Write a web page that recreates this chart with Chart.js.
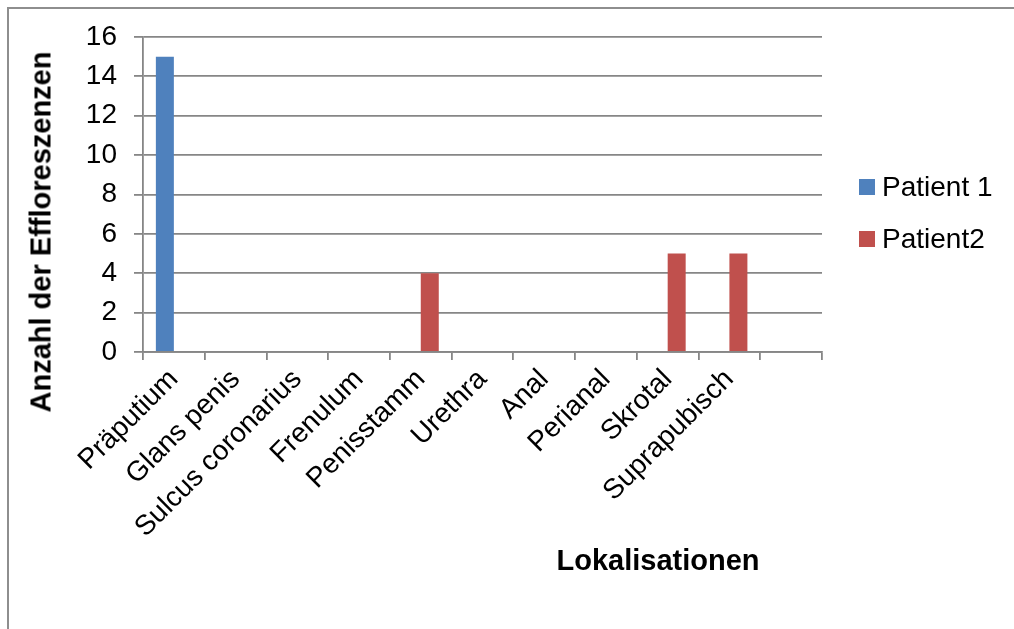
<!DOCTYPE html>
<html lang="de">
<head>
<meta charset="utf-8">
<title>Effloreszenzen nach Lokalisation</title>
<script src="https://cdn.jsdelivr.net/npm/chart.js@4.4.1/dist/chart.umd.min.js"></script>
<style>
  html, body {
    margin: 0;
    padding: 0;
    background: #fff;
    overflow: hidden;
  }
  #wrap {
    position: relative;
    width: 1014px;
    height: 629px;
    overflow: hidden;
    font-family: "Liberation Sans", Arial, sans-serif;
    color: #000;
  }
  #frame {
    position: absolute;
    left: 7px;
    top: 7px;
    width: 1100px;
    height: 700px;
    border-left: 2px solid #8e8e8e;
    border-top: 2px solid #8e8e8e;
  }
  #chart {
    position: absolute;
    left: 0;
    top: 0;
  }
  .axis-title {
    position: absolute;
    font-weight: bold;
    font-size: 29px;
    white-space: nowrap;
    line-height: 1;
  }
  #y-title {
    left: 41px;
    top: 232px;
    transform: translate(-50%, -50%) rotate(-90deg);
  }
  #x-title {
    left: 658px;
    top: 560px;
    transform: translate(-50%, -50%);
  }
  #legend {
    position: absolute;
    left: 859px;
    top: 172px;
    font-size: 28px;
  }
  .legend-item {
    display: flex;
    align-items: center;
    height: 30px;
    margin-bottom: 22px;
  }
  .legend-box {
    width: 16px;
    height: 16px;
    margin-right: 7px;
  }
</style>
</head>
<body>
<div id="wrap">
  <div id="frame"></div>
  <canvas id="chart" width="1014" height="629"></canvas>
  <div class="axis-title" id="y-title">Anzahl der Effloreszenzen</div>
  <div class="axis-title" id="x-title">Lokalisationen</div>
  <div id="legend"></div>
</div>
<script>
// Lokalisationen (letzte Kategorie ist leer)
const categories = [
  "Präputium", "Glans penis", "Sulcus coronarius", "Frenulum", "Penisstamm",
  "Urethra", "Anal", "Perianal", "Skrotal", "Suprapubisch", ""
];
const patient1 = [15, 0, 0, 0, 0, 0, 0, 0, 0, 0, null];
const patient2 = [0, 0, 0, 0, 4, 0, 0, 0, 5, 5, null];
const seriesNames = ["Patient 1", "Patient2"];
const seriesColors = ["#4f81bd", "#c0504d"];

const yMin = 0;
const yMax = 16;
const yStep = 2;

const gridColor = "#868686";
const fontFamily = "'Liberation Sans', Arial, sans-serif";

const chart = new Chart(document.getElementById("chart"), {
  type: "bar",
  data: {
    labels: categories,
    datasets: [
      {
        label: seriesNames[0],
        data: patient1,
        backgroundColor: seriesColors[0],
        categoryPercentage: 0.583,
        barPercentage: 1.0,
      },
      {
        label: seriesNames[1],
        data: patient2,
        backgroundColor: seriesColors[1],
        categoryPercentage: 0.583,
        barPercentage: 1.0,
      },
    ],
  },
  options: {
    responsive: false,
    animation: false,
    devicePixelRatio: 1,
    layout: {
      padding: { left: 0, top: 37, right: 192, bottom: 0 },
    },
    plugins: {
      legend: { display: false },
      tooltip: { enabled: false },
    },
    scales: {
      x: {
        grid: {
          offset: true,
          drawOnChartArea: false,
          drawTicks: true,
          tickLength: 8,
          color: gridColor,
          lineWidth: 1.8,
        },
        border: { color: gridColor, width: 1.8 },
        ticks: {
          autoSkip: false,
          minRotation: 45,
          maxRotation: 45,
          padding: 3,
          color: "#000",
          font: { family: fontFamily, size: 28 },
        },
        afterFit: (scale) => {
          scale.height = 629 - 352;
        },
      },
      y: {
        min: yMin,
        max: yMax,
        grid: {
          color: gridColor,
          lineWidth: 1.8,
          tickLength: 9,
        },
        border: { color: gridColor, width: 1.8 },
        ticks: {
          stepSize: yStep,
          padding: 17,
          color: "#000",
          font: { family: fontFamily, size: 28 },
        },
        afterFit: (scale) => {
          scale.width = 143;
        },
      },
    },
  },
});

// Legende aus den Datensätzen aufbauen
const legendEl = document.getElementById("legend");
chart.data.datasets.forEach((ds) => {
  const item = document.createElement("div");
  item.className = "legend-item";
  item.innerHTML = `<div class="legend-box" style="background:${ds.backgroundColor}"></div><span>${ds.label}</span>`;
  legendEl.appendChild(item);
});
</script>
</body>
</html>
